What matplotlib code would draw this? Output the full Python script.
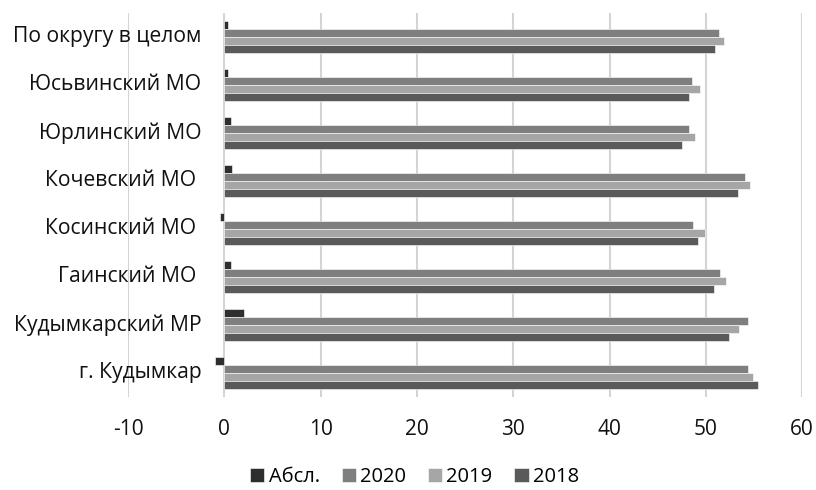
import matplotlib
matplotlib.use("Agg")
import matplotlib.pyplot as plt
import matplotlib.transforms as mtransforms
import numpy as np

categories = ["По округу в целом", "Юсьвинский МО", "Юрлинский МО", "Кочевский МО ",
              "Косинский МО ", "Гаинский МО ", "Кудымкарский МР", "г. Кудымкар"]
abs_vals = [0.4, 0.4, 0.7, 0.8, -0.5, 0.65, 2.0, -1.0]
v2020 = [51.4, 48.6, 48.2, 54.1, 48.7, 51.5, 54.4, 54.4]
v2019 = [51.9, 49.4, 48.9, 54.6, 49.9, 52.1, 53.4, 54.9]
v2018 = [51.0, 48.2, 47.5, 53.3, 49.2, 50.8, 52.4, 55.4]
series_names = ["Абсл.", "2020", "2019", "2018"]
xticks = [-10, 0, 10, 20, 30, 40, 50, 60]

plt.rcParams['font.family'] = ['Open Sans', 'DejaVu Sans']

fig = plt.figure(figsize=(8.16, 4.9), dpi=100)
ax = fig.add_axes([0.157, 0.190, 0.826, 0.7835])

colors = ["#2e2e2e", "#7f7f7f", "#a6a6a6", "#5a5a5a"]
data = [abs_vals, v2020, v2019, v2018]
n = len(categories)
centers = np.arange(n)[::-1].astype(float)
h = 1 / 6.0
offsets = [1.5 * h, 0.5 * h, -0.5 * h, -1.5 * h]
for vals, c, off, name in zip(data, colors, offsets, series_names):
    ax.barh(centers + off, vals, height=h, color=c, label=name,
            edgecolor="white", linewidth=0.4, zorder=3)

ax.set_xlim(-10, 60)
ax.set_ylim(-0.5, n - 0.5)
ax.set_xticks(xticks)
ax.set_xticklabels([str(t) for t in xticks])
ax.set_yticks([])
for t in xticks:
    ax.axvline(t, color="#d4d4d4", linewidth=1.5, zorder=1)
for s in ax.spines.values():
    s.set_visible(False)
ax.tick_params(axis="both", length=0, labelsize=15, colors="#111111")
ax.tick_params(axis="x", pad=16)

# category labels anchored to the vertical axis at x = 0
offset = mtransforms.ScaledTranslation(-23 / 100, 0, fig.dpi_scale_trans)
for cat, yc in zip(categories, centers):
    ax.text(0, yc, cat, transform=ax.transData + offset, ha="right", va="center",
            fontsize=15.2, color="#111111", zorder=5)

ax.legend(loc="lower center", bbox_to_anchor=(0.425, -0.272), ncol=4, frameon=False,
          fontsize=14.5, handlelength=0.7, handleheight=0.7, handletextpad=0.2,
          columnspacing=1.1, borderpad=0.2)

fig.savefig("out.png", dpi=100)
